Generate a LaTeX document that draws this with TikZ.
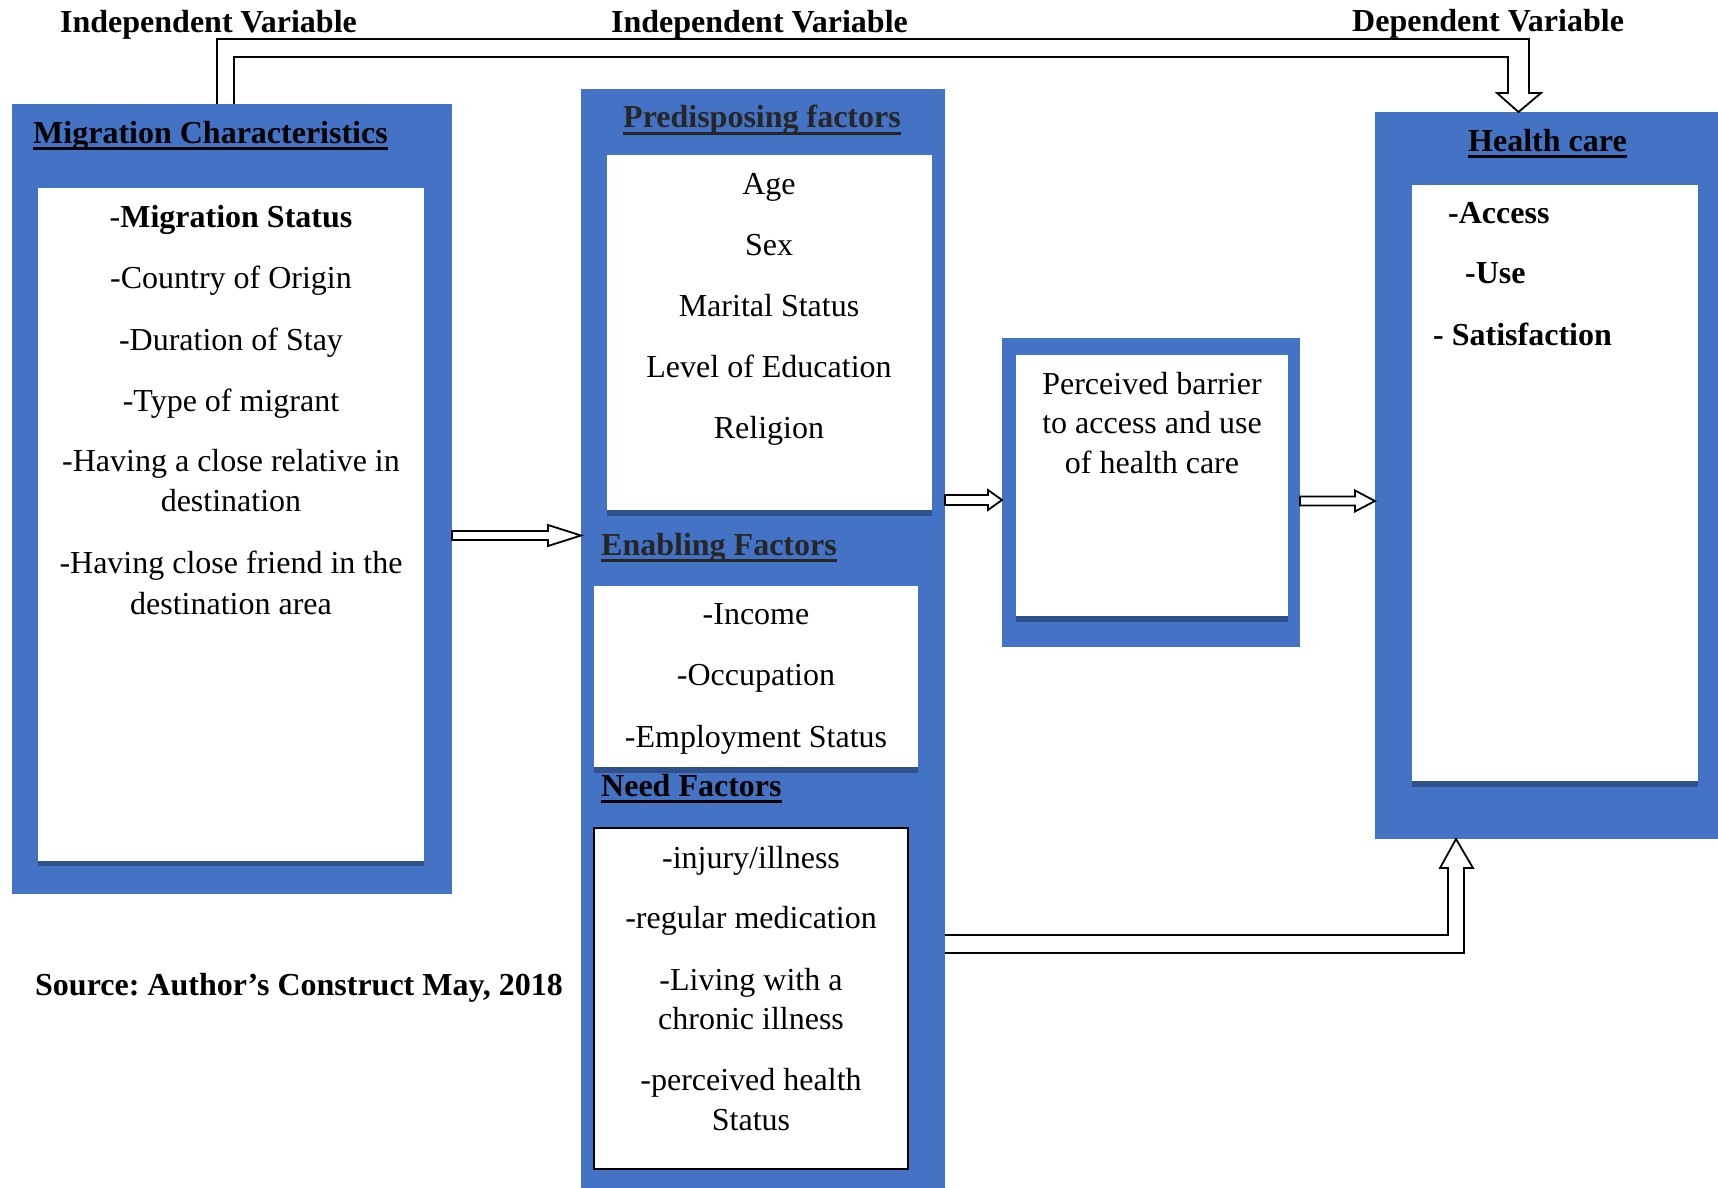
\documentclass[tikz,border=0pt]{standalone}
\usepackage{fontspec}
\setmainfont{Liberation Serif}
\usetikzlibrary{calc}
\frenchspacing
\definecolor{panelblue}{HTML}{4472C4}
\definecolor{shadowblue}{HTML}{2F528F}
\definecolor{titlegray}{HTML}{262626}
\newcommand\bodysize{\fontsize{32}{38}\selectfont}
% thick underline drawn under a heading
\newcommand\ulbar[1]{\setbox0=\hbox{#1}\rlap{\vrule height -4pt depth 7pt width \wd0}\box0}
% hollow block arrow: start, tip, shaft half-width, head half-width, head length
\newcommand\blockarrow[5]{%
  \draw[arrowline] ($(#1)+(0,-#3)$) -- ($(#2)+(-#5,-#3)$) -- ($(#2)+(-#5,-#4)$)
    -- (#2) -- ($(#2)+(-#5,#4)$) -- ($(#2)+(-#5,#3)$) -- ($(#1)+(0,#3)$) -- cycle;}
\begin{document}
\begin{tikzpicture}[x=1pt,y=-1pt,
  panel/.style={rectangle, fill=panelblue, draw=none, inner sep=0pt, outer sep=0pt, anchor=north west},
  card/.style={rectangle, fill=white, draw=none, inner sep=0pt, outer sep=0pt, anchor=north west},
  body/.style={font=\bodysize, anchor=base, inner sep=0pt, text=black},
  bodyl/.style={font=\bodysize\bfseries, anchor=base west, inner sep=0pt, text=black},
  heading/.style={font=\bodysize\bfseries, anchor=base west, inner sep=0pt},
  arrowline/.style={draw=black, line width=1.8pt, fill=white, line join=miter}]
\useasboundingbox (0,0) rectangle (1718,1188);
\fill[white] (0,0) rectangle (1718,1188);

% ---- blue panels ----
\node[panel, minimum width=440pt, minimum height=790pt] (mig) at (12,104) {};
\node[panel, minimum width=364pt, minimum height=1099pt] (mid) at (581,89) {};
\node[panel, minimum width=298pt, minimum height=309pt] (bar) at (1002,338) {};
\node[panel, minimum width=343pt, minimum height=727pt] (hc) at (1375,112) {};

% ---- white cards with their dark bottom edge ----
\node[card, minimum width=386pt, minimum height=673pt] (migw) at (38,188) {};
\fill[shadowblue] (migw.south west) rectangle ([yshift=-5pt]migw.south east);
\node[card, minimum width=325pt, minimum height=355pt] (prew) at (607,155) {};
\fill[shadowblue] (prew.south west) rectangle ([yshift=-6pt]prew.south east);
\node[card, minimum width=324pt, minimum height=181pt] (enaw) at (594,586) {};
\fill[shadowblue] (enaw.south west) rectangle ([yshift=-6pt]enaw.south east);
\node[card, minimum width=314pt, minimum height=341pt, draw=black, line width=2pt] (needw) at (594,828) {};
\node[card, minimum width=272pt, minimum height=261pt] (barw) at (1016,355) {};
\fill[shadowblue] (barw.south west) rectangle ([yshift=-6pt]barw.south east);
\node[card, minimum width=286pt, minimum height=596pt] (hcw) at (1412,185) {};
\fill[shadowblue] (hcw.south west) rectangle ([yshift=-6pt]hcw.south east);

% ---- variable labels ----
\node[heading] (iv1) at (60,33) {Independent Variable};
\node[heading] (iv2) at (611,33) {Independent Variable};
\node[heading] (dv) at (1352,32) {Dependent Variable};

% ---- migration characteristics ----
\node[heading, text=black] (migt) at (33,143) {\ulbar{Migration Characteristics}};
\node[body] (m1) at (231,227) {-\textbf{Migration Status}};
\node[body] (m2) at (231,288) {-Country of Origin};
\node[body] (m3) at (231,350) {-Duration of Stay};
\node[body] (m4) at (231,411) {-Type of migrant};
\node[body] (m5) at (231,471) {-Having a close relative in};
\node[body] (m6) at (231,511) {destination};
\node[body] (m7) at (231,573) {-Having close friend in the};
\node[body] (m8) at (231,614) {destination area};

% ---- predisposing factors ----
\node[heading, text=titlegray] (pret) at (623,128) {\ulbar{Predisposing factors}};
\node[body] (p1) at (769,194) {Age};
\node[body] (p2) at (769,255) {Sex};
\node[body] (p3) at (769,316) {Marital Status};
\node[body] (p4) at (769,377) {Level of Education};
\node[body] (p5) at (769,438) {Religion};

% ---- enabling factors ----
\node[heading, text=titlegray] (enat) at (601,555) {\ulbar{Enabling Factors}};
\node[body] (e1) at (756,624) {-Income};
\node[body] (e2) at (756,685) {-Occupation};
\node[body] (e3) at (756,747) {-Employment Status};

% ---- need factors ----
\node[heading, text=black] (needt) at (601,796) {\ulbar{Need Factors}};
\node[body] (n1) at (751,868) {-injury/illness};
\node[body] (n2) at (751,928) {-regular medication};
\node[body] (n3) at (751,990) {-Living with a};
\node[body] (n4) at (751,1029) {chronic illness};
\node[body] (n5) at (751,1090) {-perceived health};
\node[body] (n6) at (751,1130) {Status};

% ---- perceived barrier ----
\node[body] (b1) at (1152,394) {Perceived barrier};
\node[body] (b2) at (1152,433) {to access and use};
\node[body] (b3) at (1152,473) {of health care};

% ---- health care ----
\node[heading, text=black] (hct) at (1468,151) {\ulbar{Health care}};
\node[bodyl] (h1) at (1448,223) {-Access};
\node[bodyl] (h2) at (1465,283) {-Use};
\node[bodyl] (h3) at (1433,345) {- Satisfaction};

% ---- source note ----
\node[heading, text=black] (src) at (35,995) {Source: Author’s Construct May, 2018};

% ---- straight block arrows ----
\coordinate (a1s) at (mig.east |- 0,535.5);
\coordinate (a1t) at (mid.west |- 0,535.5);
\blockarrow{a1s}{a1t}{4.5}{10.5}{33}
\coordinate (a2s) at (mid.east |- 0,500);
\coordinate (a2t) at (bar.west |- 0,500);
\blockarrow{a2s}{a2t}{5}{10}{14}
\coordinate (a3s) at (bar.east |- 0,501);
\coordinate (a3t) at (hc.west |- 0,501);
\blockarrow{a3s}{a3t}{4.5}{10.5}{20}

% ---- bent arrow over the top: migration -> health care ----
\draw[arrowline] ([xshift=205pt]mig.north west) |- ([xshift=154pt,yshift=73pt]hc.north west)
  -- ++(0,54) -- ++(12,0) -- ([xshift=143.5pt]hc.north west) -- ++(-21.5,-19)
  -- ++(11,0) -- ++(0,-36) -| ([xshift=222pt]mig.north west);

% ---- bent arrow along the bottom: need factors -> health care ----
\draw[arrowline] (mid.east |- 0,953) -| ([xshift=89pt,yshift=-29pt]hc.south west)
  -- ++(9,0) -- ([xshift=81pt]hc.south west) -- ++(-16,29) -- ++(8,0)
  -- ++(0,67) -- (mid.east |- 0,935);
\end{tikzpicture}
\end{document}
